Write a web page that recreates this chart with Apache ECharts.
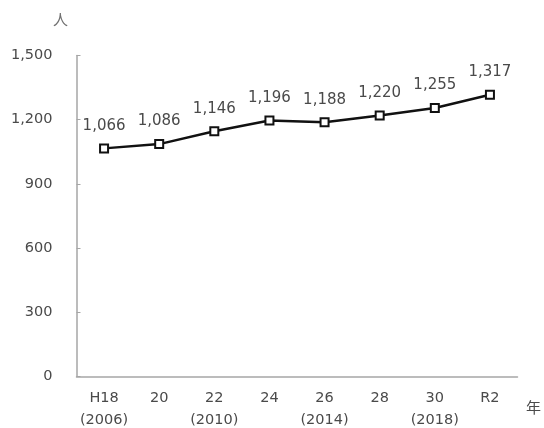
<!DOCTYPE html>
<html><head><meta charset="utf-8">
<script src="https://cdn.jsdelivr.net/npm/echarts@6/dist/echarts.min.js"></script>
<style>html,body{margin:0;padding:0;background:#fff}#c{width:544px;height:428px}</style>
</head><body><div id="c"></div>
<script>
const categories = ['H18\n(2006)', '20', '22\n(2010)', '24', '26\n(2014)', '28', '30\n(2018)', 'R2'];
const values = [1066, 1086, 1146, 1196, 1188, 1220, 1255, 1317];
const yTicks = [0, 300, 600, 900, 1200, 1500];
const yUnit = '人';
const xUnit = '年';

const font = '"DejaVu Sans", "Noto Sans CJK JP", sans-serif';
const cjk = '"Noto Sans CJK JP", sans-serif';
const textColor = '#4a4a4a';
const axisColor = '#a6a6a6';

const chart = echarts.init(document.getElementById('c'), null, {renderer: 'canvas'});
chart.setOption({
  animation: false,
  backgroundColor: '#fff',
  grid: {left: 76.5, right: 26.5, top: 55.5, bottom: 51.5, containLabel: false, outerBoundsMode: 'none'},
  xAxis: {
    type: 'category',
    data: categories,
    boundaryGap: true,
    axisLine: {lineStyle: {color: axisColor, width: 1.5}},
    axisTick: {inside: true, length: 4, interval: 0, lineStyle: {color: axisColor}},
    axisLabel: {color: textColor, fontFamily: font, fontSize: 14.5, margin: 11, lineHeight: 22,
      interval: 0, hideOverlap: false},
  },
  yAxis: {
    type: 'value',
    min: yTicks[0], max: yTicks[yTicks.length - 1], interval: yTicks[1] - yTicks[0],
    axisLine: {show: true, lineStyle: {color: axisColor, width: 1.5}},
    axisTick: {show: true, inside: true, length: 4, lineStyle: {color: axisColor}},
    splitLine: {show: false},
    axisLabel: {color: textColor, fontFamily: font, fontSize: 14.5, margin: 24,
      formatter: v => v.toLocaleString('en-US')},
  },
  graphic: [
    {type: 'text', left: 53, top: 12, style: {text: yUnit, fill: '#707070', font: '15px ' + cjk}},
    {type: 'text', left: 526, top: 400, style: {text: xUnit, fill: textColor, font: '15px ' + cjk}},
  ],
  series: [{
    type: 'line',
    data: values,
    symbol: 'rect',
    symbolSize: 8,
    lineStyle: {color: '#111', width: 2.5},
    itemStyle: {color: '#fff', borderColor: '#111', borderWidth: 2},
    label: {show: true, position: 'top', distance: 10, color: textColor, fontFamily: font, fontSize: 15,
      formatter: p => p.value.toLocaleString('en-US')},
  }],
});
</script></body></html>
